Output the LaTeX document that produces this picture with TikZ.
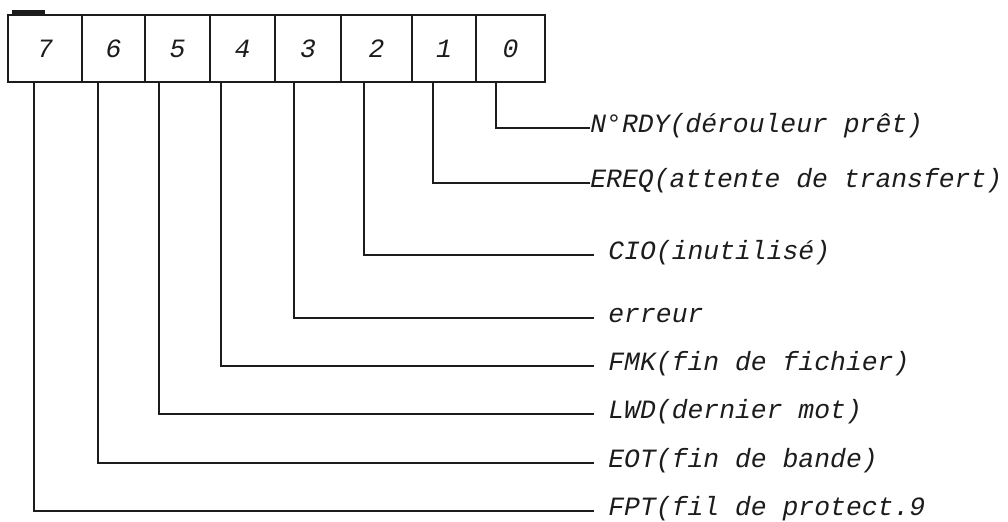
\documentclass[tikz,border=0pt]{standalone}
\usepackage{fontspec}
\setmonofont{Liberation Mono}
\usetikzlibrary{positioning}
\definecolor{ink}{HTML}{1C1C1C}

\begin{document}
\begin{tikzpicture}[
  x=0.5pt, y=-0.5pt,
  every node/.style={text=ink, font=\fontsize{13.2}{15}\selectfont\ttfamily\itshape},
  bitcell/.style={draw=ink, line width=1.1pt, minimum height=33.5pt, inner sep=0pt},
  lead/.style={draw=ink, line width=1.1pt},
  flag/.style={anchor=mid west, inner xsep=7pt, inner ysep=0pt},
]

% Frame
\useasboundingbox (0,0) rectangle (1008,521);

% Register cells, bit 7 to bit 0
\foreach \b/\xa/\xb in {7/8/82, 6/82/145, 5/145/210, 4/210/275, 3/275/341, 2/341/412, 1/412/476, 0/476/545}{
  \pgfmathsetmacro\cw{(\xb-\xa)*0.5}
  \node[bitcell, minimum width=\cw pt] (c\b) at ({(\xa+\xb)/2},48.5) {\b};
}

% Mark on the top left corner
\draw[ink, line width=2pt] (12,12) -- (45,12);

% Flags
\node[flag, inner xsep=0pt] (l0) at (590,128) {N°RDY(dérouleur prêt)};
\node[flag, inner xsep=0pt] (l1) at (590,183) {EREQ(attente de transfert)};
\node[flag] (l2) at (594,255) {CIO(inutilisé)};
\node[flag] (l3) at (594,318) {erreur};
\node[flag] (l4) at (594,366) {FMK(fin de fichier)};
\node[flag] (l5) at (594,414) {LWD(dernier mot)};
\node[flag] (l6) at (594,463) {EOT(fin de bande)};
\node[flag] (l7) at (594,511) {FPT(fil de protect.9};

% Leads from the cells to the flags
\foreach \b/\xv in {0/496, 1/433, 2/364, 3/294, 4/221, 5/159, 6/98, 7/34}
  \draw[lead] (\xv,0 |- c\b.south) |- (l\b.mid west);

\end{tikzpicture}
\end{document}
